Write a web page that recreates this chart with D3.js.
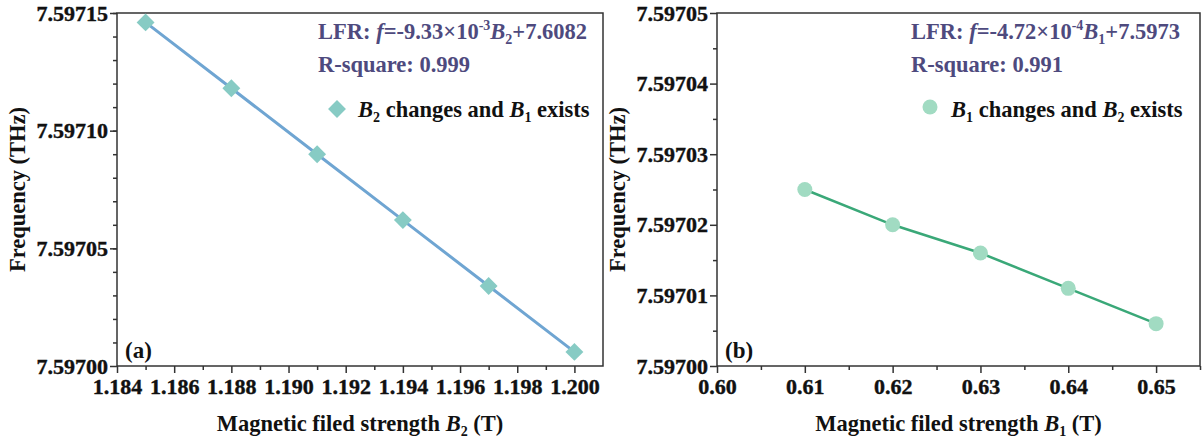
<!DOCTYPE html>
<html lang="en">
<head>
<meta charset="utf-8">
<title>Frequency vs magnetic field</title>
<script src="https://cdn.jsdelivr.net/npm/d3@7"></script>
<style>
  body { margin: 0; background: #fff; }
  svg text { font-family: "Liberation Serif", "Times New Roman", serif; font-weight: 700; }
</style>
</head>
<body>
<div id="bod"></div>
<script>
// panel (a): B2 changes, B1 exists
const b2Values = [1.185, 1.188, 1.191, 1.194, 1.197, 1.200];
const freqA = [7.597146, 7.597118, 7.597090, 7.597062, 7.597034, 7.597006];
const xTicksA = [1.184, 1.186, 1.188, 1.190, 1.192, 1.194, 1.196, 1.198, 1.200];
const yTicksA = [7.59700, 7.59705, 7.59710, 7.59715];

// panel (b): B1 changes, B2 exists
const b1Values = [0.61, 0.62, 0.63, 0.64, 0.65];
const freqB = [7.597025, 7.597020, 7.597016, 7.597011, 7.597006];
const xTicksB = [0.60, 0.61, 0.62, 0.63, 0.64, 0.65];
const yTicksB = [7.59700, 7.59701, 7.59702, 7.59703, 7.59704, 7.59705];

const W = 1203, H = 445;
const annoColor = "#4e4a7e";
const FS = 22.5, SUB = 14;
const FONT = "Liberation Serif";

const svg = d3.select("#bod").append("svg")
  .attr("width", W).attr("height", H)
  .attr("font-family", FONT).attr("font-weight", "bold");

function drawPanel(p) {
  const x = d3.scaleLinear().domain(p.xDomain).range([p.left, p.right]);
  const y = d3.scaleLinear().domain(p.yDomain).range([p.bottom, p.top]);
  const g = svg.append("g");

  // minor ticks
  const xAxisMinor = d3.axisBottom(x).tickValues(p.xMinor).tickSize(4).tickFormat("");
  const yAxisMinor = d3.axisLeft(y).tickValues(p.yMinor).tickSize(4).tickFormat("");
  g.append("g").attr("transform", "translate(0," + p.bottom + ")").call(xAxisMinor);
  g.append("g").attr("transform", "translate(" + p.left + ",0)").call(yAxisMinor);

  const xAxis = d3.axisBottom(x).tickValues(p.xTicks).tickSize(7).tickPadding(2).tickFormat(p.xFmt);
  const yAxis = d3.axisLeft(y).tickValues(p.yTicks).tickSize(7).tickPadding(2).tickFormat(d3.format(".5f"));
  g.append("g").attr("class", "xa").attr("transform", "translate(0," + p.bottom + ")").call(xAxis);
  g.append("g").attr("class", "ya").attr("transform", "translate(" + p.left + ",0)").call(yAxis);

  g.selectAll(".domain").remove();
  g.selectAll("g.xa, g.ya").attr("font-family", FONT).attr("font-size", 22);
  g.selectAll(".tick line").attr("stroke", "#333").attr("stroke-width", 1.5);
  g.selectAll(".xa text, .ya text")
    .attr("font-size", 22).attr("fill", "#111")
    .attr("stroke", "#111").attr("stroke-width", 0.4);
  g.selectAll(".xa text").attr("dy", "0.85em");

  // frame
  g.append("rect")
    .attr("x", p.left).attr("y", p.top)
    .attr("width", p.right - p.left).attr("height", p.bottom - p.top)
    .attr("fill", "none").attr("stroke", "#333").attr("stroke-width", 1.5);

  // line
  const line = d3.line().x((d, i) => x(p.xs[i])).y(d => y(d));
  g.append("path").datum(p.ys)
    .attr("fill", "none").attr("stroke", p.lineColor).attr("stroke-width", p.lineWidth)
    .attr("d", line);

  // markers
  if (p.marker === "diamond") {
    const sym = d3.symbol().type(d3.symbolSquare).size(160);
    g.selectAll(".pt").data(p.ys).join("path")
      .attr("d", sym)
      .attr("transform", (d, i) => "translate(" + x(p.xs[i]) + "," + y(d) + ") rotate(45)")
      .attr("fill", p.markerColor);
  } else {
    g.selectAll(".pt").data(p.ys).join("circle")
      .attr("cx", (d, i) => x(p.xs[i])).attr("cy", d => y(d)).attr("r", 7.5)
      .attr("fill", p.markerColor);
  }

  // annotations
  const t1 = g.append("text").attr("x", p.annoX).attr("y", 39)
    .attr("font-size", FS).attr("fill", annoColor);
  t1.append("tspan").text("LFR: ");
  t1.append("tspan").attr("font-style", "italic").text("f");
  t1.append("tspan").text("=" + p.slope + "×10");
  t1.append("tspan").attr("font-size", SUB).attr("dy", -9).text(p.exp);
  t1.append("tspan").attr("font-style", "italic").attr("dy", 9).text("B");
  t1.append("tspan").attr("font-size", SUB).attr("dy", 5).text(p.varSub);
  t1.append("tspan").attr("dy", -5).text("+" + p.intercept);

  g.append("text").attr("x", p.annoX).attr("y", 72)
    .attr("font-size", FS).attr("fill", annoColor).text("R-square: " + p.r2);

  // legend
  if (p.marker === "diamond") {
    g.append("path").attr("d", d3.symbol().type(d3.symbolSquare).size(160)())
      .attr("transform", "translate(" + p.legX + ",109) rotate(45)").attr("fill", p.markerColor);
  } else {
    g.append("circle").attr("cx", p.legX).attr("cy", 107).attr("r", 7.5).attr("fill", p.markerColor);
  }
  const lt = g.append("text").attr("x", p.legX + 21).attr("y", 117)
    .attr("font-size", FS).attr("fill", "#111");
  lt.append("tspan").attr("font-style", "italic").text("B");
  lt.append("tspan").attr("font-size", SUB).attr("dy", 5).text(p.legA);
  lt.append("tspan").attr("dy", -5).text(" changes and ");
  lt.append("tspan").attr("font-style", "italic").text("B");
  lt.append("tspan").attr("font-size", SUB).attr("dy", 5).text(p.legB);
  lt.append("tspan").attr("dy", -5).text(" exists");

  // panel label
  g.append("text").attr("x", p.left + 8).attr("y", p.bottom - 8)
    .attr("font-size", 23).attr("fill", "#111").text(p.label);

  // axis titles
  const xt = g.append("text").attr("x", (p.left + p.right) / 2).attr("y", 431)
    .attr("text-anchor", "middle").attr("font-size", FS).attr("fill", "#111");
  xt.append("tspan").text("Magnetic filed strength ");
  xt.append("tspan").attr("font-style", "italic").text("B");
  xt.append("tspan").attr("font-size", SUB).attr("dy", 5).text(p.xSub);
  xt.append("tspan").attr("dy", -5).text(" (T)");

  g.append("text")
    .attr("transform", "translate(" + (p.left - 92) + "," + ((p.top + p.bottom) / 2) + ") rotate(-90)")
    .attr("text-anchor", "middle").attr("font-size", FS).attr("fill", "#111")
    .text("Frequency (THz)");
}

drawPanel({
  left: 117, right: 603, top: 13, bottom: 366,
  xDomain: [1.184, 1.201], yDomain: [7.59700, 7.59715],
  xTicks: xTicksA, yTicks: yTicksA,
  xMinor: d3.range(1.185, 1.2005, 0.002), yMinor: d3.range(7.59701, 7.59715, 0.00001),
  xFmt: d3.format(".3f"),
  xs: b2Values, ys: freqA,
  lineColor: "#6fa5d2", lineWidth: 3, marker: "diamond", markerColor: "#87cbc4",
  annoX: 318, slope: "-9.33", exp: "-3", varSub: "2", intercept: "7.6082", r2: "0.999",
  legX: 337, legA: "2", legB: "1", label: "(a)", xSub: "2"
});

drawPanel({
  left: 717, right: 1200, top: 13, bottom: 366,
  xDomain: [0.60, 0.655], yDomain: [7.59700, 7.59705],
  xTicks: xTicksB, yTicks: yTicksB,
  xMinor: d3.range(0.605, 0.656, 0.01), yMinor: d3.range(7.597005, 7.59705, 0.00001),
  xFmt: d3.format(".2f"),
  xs: b1Values, ys: freqB,
  lineColor: "#3aa878", lineWidth: 2.5, marker: "circle", markerColor: "#a1dbc2",
  annoX: 911, slope: "-4.72", exp: "-4", varSub: "1", intercept: "7.5973", r2: "0.991",
  legX: 930, legA: "1", legB: "2", label: "(b)", xSub: "1"
});
</script>
</body>
</html>
